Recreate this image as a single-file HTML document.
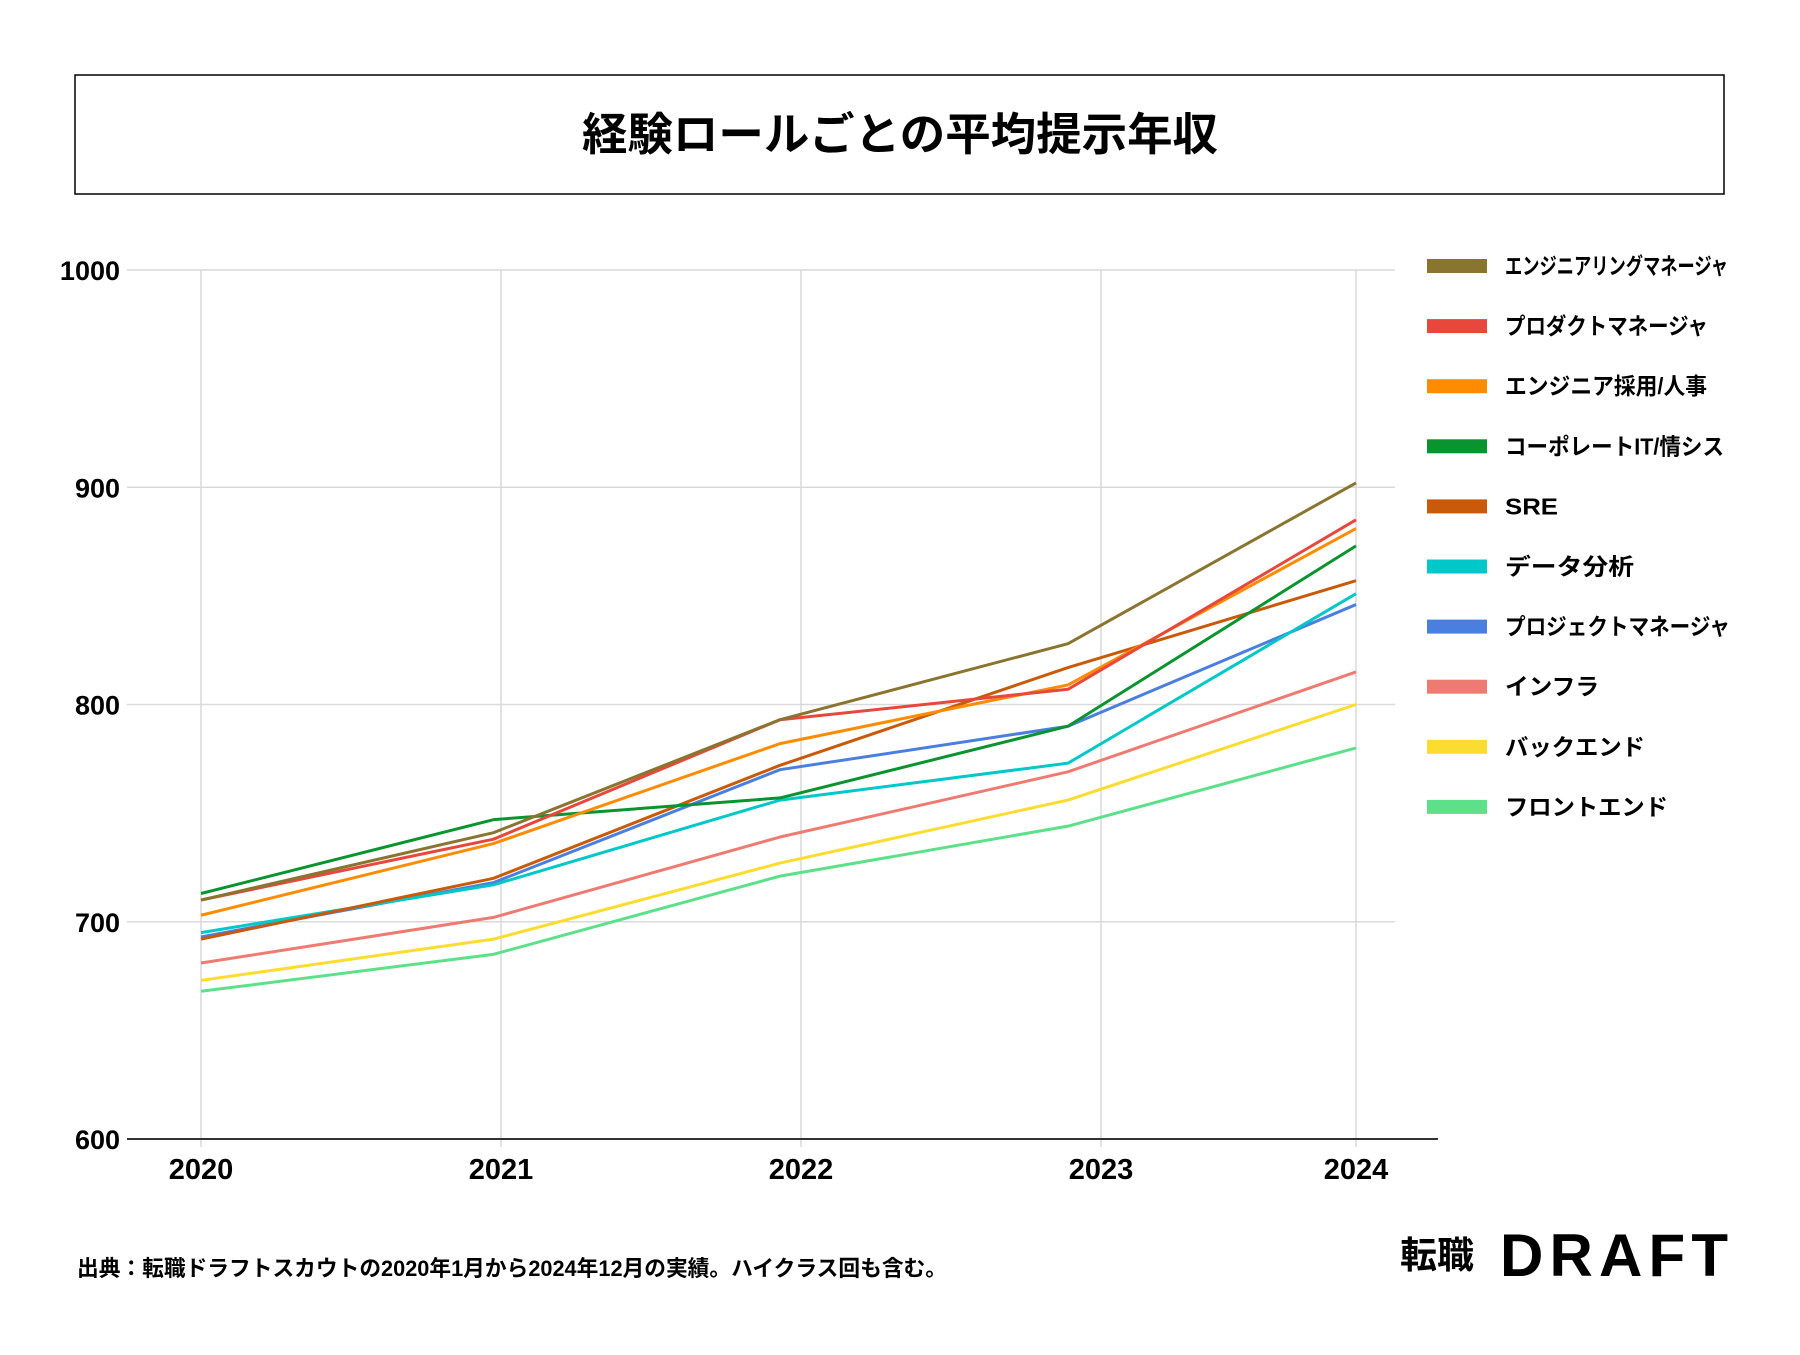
<!DOCTYPE html>
<html><head><meta charset="utf-8">
<style>
body{margin:0;background:#fff;width:1800px;height:1350px;overflow:hidden;font-family:"Liberation Sans","Noto Sans CJK JP",sans-serif;}
</style></head>
<body>
<svg id="chart" width="1800" height="1350" xmlns="http://www.w3.org/2000/svg">
<rect x="75" y="75" width="1649" height="119" fill="none" stroke="#000" stroke-width="1.5"/>
<text x="900" y="150" text-anchor="middle" font-size="45" font-weight="bold" textLength="636" lengthAdjust="spacingAndGlyphs" font-family="Liberation Sans,Noto Sans CJK JP,sans-serif">経験ロールごとの平均提示年収</text>
<g id="grid"></g><g id="lines"></g><g id="legend"></g>
<text x="77" y="1276" font-size="22" font-weight="bold" textLength="870" lengthAdjust="spacingAndGlyphs" font-family="Liberation Sans,Noto Sans CJK JP,sans-serif">出典：転職ドラフトスカウトの2020年1月から2024年12月の実績。ハイクラス回も含む。</text>
<text x="1400" y="1268" font-size="37" font-weight="bold" font-family="Noto Sans CJK JP,sans-serif">転職</text>
<text x="1500" y="1276" font-size="60" font-weight="bold" textLength="228" lengthAdjust="spacing" font-family="Liberation Sans,sans-serif">DRAFT</text>
</svg>
<script>
const years = ["2020","2021","2022","2023","2024"];
const tickPos = [2020, 2021, 2022, 2023, 2023.85];
const xPos = [2020, 2020.975, 2021.93, 2022.89, 2023.85];
const yTicks = [600,700,800,900,1000];
const names = ["エンジニアリングマネージャ","プロダクトマネージャ","エンジニア採用/人事","コーポレートIT/情シス","SRE","データ分析","プロジェクトマネージャ","インフラ","バックエンド","フロントエンド"];
const colors = ["#8a7530","#e8473c","#ff8c00","#0a9430","#c95a0a","#00c8c8","#4a7fe0","#ee7b72","#fddc30","#5de08a"];
const sEM = [710,741,793,828,902];
const sPM = [710,738,793,807,885];
const sHR = [703,736,782,809,881];
const sIT = [713,747,757,790,873];
const sSRE = [692,720,772,817,857];
const sDA = [695,717,756,773,851];
const sPJ = [693,718,770,790,846];
const sInf = [681,702,739,769,815];
const sBE = [673,692,727,756,800];
const sFE = [668,685,721,744,780];
const series = [sEM,sPM,sHR,sIT,sSRE,sDA,sPJ,sInf,sBE,sFE];
const NS="http://www.w3.org/2000/svg";
const X0=201, XS=300, Y0=1139, YS=2.1725;
const legendTextWidths=[223,203,202,219,53,129,225,94,140,163];
function xs(v){return X0+(v-2020)*XS;}
function ys(v){return Y0-(v-600)*YS;}
function mk(t,a,p){const e=document.createElementNS(NS,t);for(const k in a)e.setAttribute(k,a[k]);p.appendChild(e);return e;}
const grid=document.getElementById('grid');
yTicks.forEach(v=>{
  if(v>600){const l=mk('line',{x1:127,x2:1395,y1:ys(v),y2:ys(v),stroke:'#d9d9d9','stroke-width':1.5},grid);
  
  }
  const t=mk('text',{x:120,y:ys(v)+10,'text-anchor':'end','font-size':27,'font-weight':'bold'},grid);
  t.textContent=v;
  
  
});
years.forEach((y,i)=>{
  const l=mk('line',{x1:xs(tickPos[i]),x2:xs(tickPos[i]),y1:ys(1000),y2:ys(600)+8,stroke:'#d9d9d9','stroke-width':1.5},grid);
  
  
  const t=mk('text',{x:xs(tickPos[i]),y:1179,'text-anchor':'middle','font-size':29,'font-weight':'bold'},grid);
  t.textContent=y;
  
  
});
const ax=mk('line',{x1:127,x2:1438,y1:ys(600),y2:ys(600),stroke:'#333','stroke-width':2},grid);


const lines=document.getElementById('lines');
for(let k=series.length-1;k>=0;k--){
  const pts=series[k].map((v,i)=>xs(xPos[i])+','+ys(v)).join(' ');
  const p=mk('polyline',{points:pts,fill:'none',stroke:colors[k],'stroke-width':3,'stroke-linejoin':'round'},lines);
  
  
}
const lg=document.getElementById('legend');
names.forEach((n,i)=>{
  const y=266+i*60.1;
  const r=mk('rect',{x:1427,y:y-7,width:60,height:14,fill:colors[i]},lg);
  
  
  const t=mk('text',{x:1505,y:y+8,'font-size':23,'font-weight':'bold',textLength:legendTextWidths[i],lengthAdjust:'spacingAndGlyphs'},lg);
  t.textContent=n;
  
  
});
</script>
</body></html>
